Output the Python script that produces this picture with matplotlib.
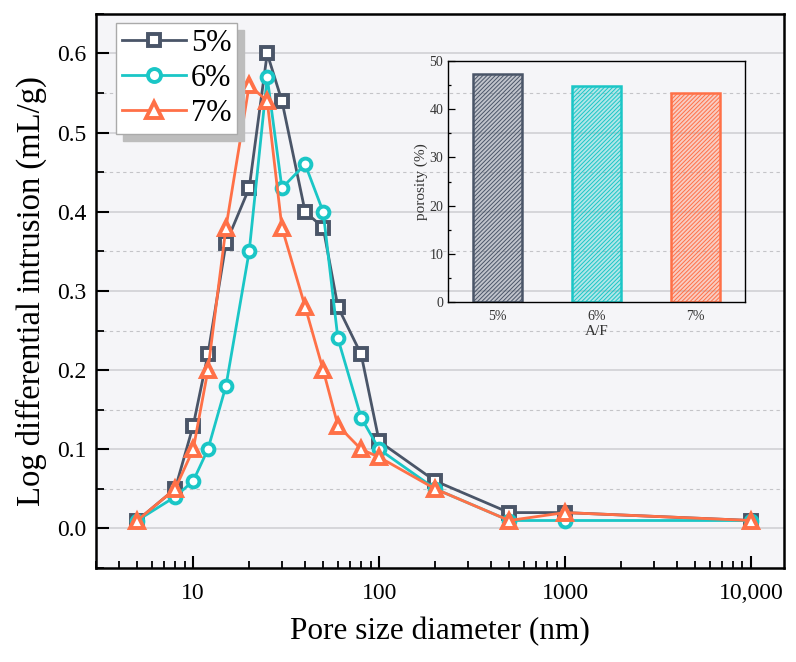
import matplotlib.pyplot as plt
from matplotlib.ticker import FixedLocator, MultipleLocator, LogLocator, NullFormatter
import numpy as np

plt.rcParams['font.family'] = ['Liberation Serif', 'DejaVu Serif']
plt.rcParams['hatch.linewidth'] = 0.7

pore_size = [5, 8, 10, 12, 15, 20, 25, 30, 40, 50, 60, 80, 100, 200, 500, 1000, 10000]
af_5 = [0.01, 0.05, 0.13, 0.22, 0.36, 0.43, 0.60, 0.54, 0.40, 0.38, 0.28, 0.22, 0.11, 0.06, 0.02, 0.02, 0.01]
af_6 = [0.01, 0.04, 0.06, 0.10, 0.18, 0.35, 0.57, 0.43, 0.46, 0.40, 0.24, 0.14, 0.10, 0.05, 0.01, 0.01, 0.01]
af_7 = [0.01, 0.05, 0.10, 0.20, 0.38, 0.56, 0.54, 0.38, 0.28, 0.20, 0.13, 0.10, 0.09, 0.05, 0.01, 0.02, 0.01]

labels = ['5%', '6%', '7%']
porosity = [47.4, 44.9, 43.4]
colors = ['#4a5568', '#1ac6c6', '#ff7047']

fig = plt.figure(figsize=(7.96, 6.62), dpi=100)
ax = fig.add_axes([0.1206, 0.1420, 0.864, 0.837])
ax.set_facecolor('#f5f5f8')

markers = ['s', 'o', '^']
msizes = [8, 8.5, 10]
for ys, c, m, ms, lab in zip([af_5, af_6, af_7], colors, markers, msizes, labels):
    ax.plot(pore_size, ys, color=c, lw=2, marker=m, markersize=ms,
            markerfacecolor='white', markeredgecolor=c, markeredgewidth=2.8, label=lab)

ax.set_xscale('log')
ax.set_xlim(3, 15000)
ax.set_ylim(-0.05, 0.65)
ax.xaxis.set_major_locator(FixedLocator([10, 100, 1000, 10000]))
ax.set_xticklabels(['10', '100', '1000', '10,000'])
ax.xaxis.set_minor_locator(LogLocator(base=10, subs=np.arange(2, 10)))
ax.xaxis.set_minor_formatter(NullFormatter())
ax.yaxis.set_minor_locator(MultipleLocator(0.05))
ax.set_yticks(np.arange(0, 0.61, 0.1))
ax.set_yticklabels(['%.1f' % v for v in np.arange(0, 0.61, 0.1)])

ax.grid(axis='y', which='major', color='#d0d0d4', lw=1.2)
ax.grid(axis='y', which='minor', color='#c4c4c8', lw=0.8, ls=(0, (3, 3)))
ax.set_axisbelow(True)

ax.tick_params(axis='both', which='major', direction='in', length=9, width=1.5, labelsize=17, pad=7)
ax.tick_params(axis='x', which='major', pad=11)
ax.tick_params(axis='both', which='minor', direction='in', length=5, width=1.3)
ax.tick_params(axis='y', which='minor', length=6)
for s in ax.spines.values():
    s.set_linewidth(1.8)

ax.set_xlabel('Pore size diameter (nm)', fontsize=22.5, labelpad=9)
ax.set_ylabel('Log differential intrusion (mL/g)', fontsize=23.5, labelpad=7)

leg = ax.legend(loc='upper left', bbox_to_anchor=(0.02, 0.995), fontsize=22, fancybox=False,
                shadow={'color': '#bdbdbd', 'alpha': 1, 'ox': 5, 'oy': -5}, framealpha=1,
                edgecolor='#aaaaaa', handlelength=2.1, handletextpad=0.15, borderpad=0.2,
                labelspacing=0.2, borderaxespad=0.2, markerscale=1.1)
leg.get_frame().set_linewidth(1.0)

# inset bar chart
ins = fig.add_axes([0.5628, 0.5438, 0.373, 0.364])
ins.set_facecolor('none')
xpos = np.arange(len(labels))
for i, (v, c) in enumerate(zip(porosity, colors)):
    ins.bar(xpos[i], v, width=0.5, color=c, alpha=0.3, edgecolor='none')
    ins.bar(xpos[i], v, width=0.5, facecolor='none', edgecolor=c, hatch='////////', lw=0)
    ins.bar(xpos[i], v, width=0.5, facecolor='none', edgecolor=c, lw=1.8)
ins.set_xlim(-0.5, 2.5)
ins.set_ylim(0, 50)
ins.set_xticks(xpos)
ins.set_xticklabels(labels)
ins.yaxis.set_major_locator(MultipleLocator(10))
ins.yaxis.set_minor_locator(MultipleLocator(5))
ins.tick_params(axis='both', which='major', direction='in', length=5, width=0.9,
                labelsize=10, labelcolor='#333333')
ins.tick_params(axis='y', which='minor', direction='in', length=2.5, width=0.9)
ins.tick_params(axis='x', length=0, pad=6)
ins.set_xlabel('A/F', fontsize=11, labelpad=1, color='#333333')
ins.set_ylabel('porosity (%)', fontsize=11, labelpad=1, color='#333333')
for s in ins.spines.values():
    s.set_linewidth(1.0)

fig.savefig('out.png', dpi=100)
